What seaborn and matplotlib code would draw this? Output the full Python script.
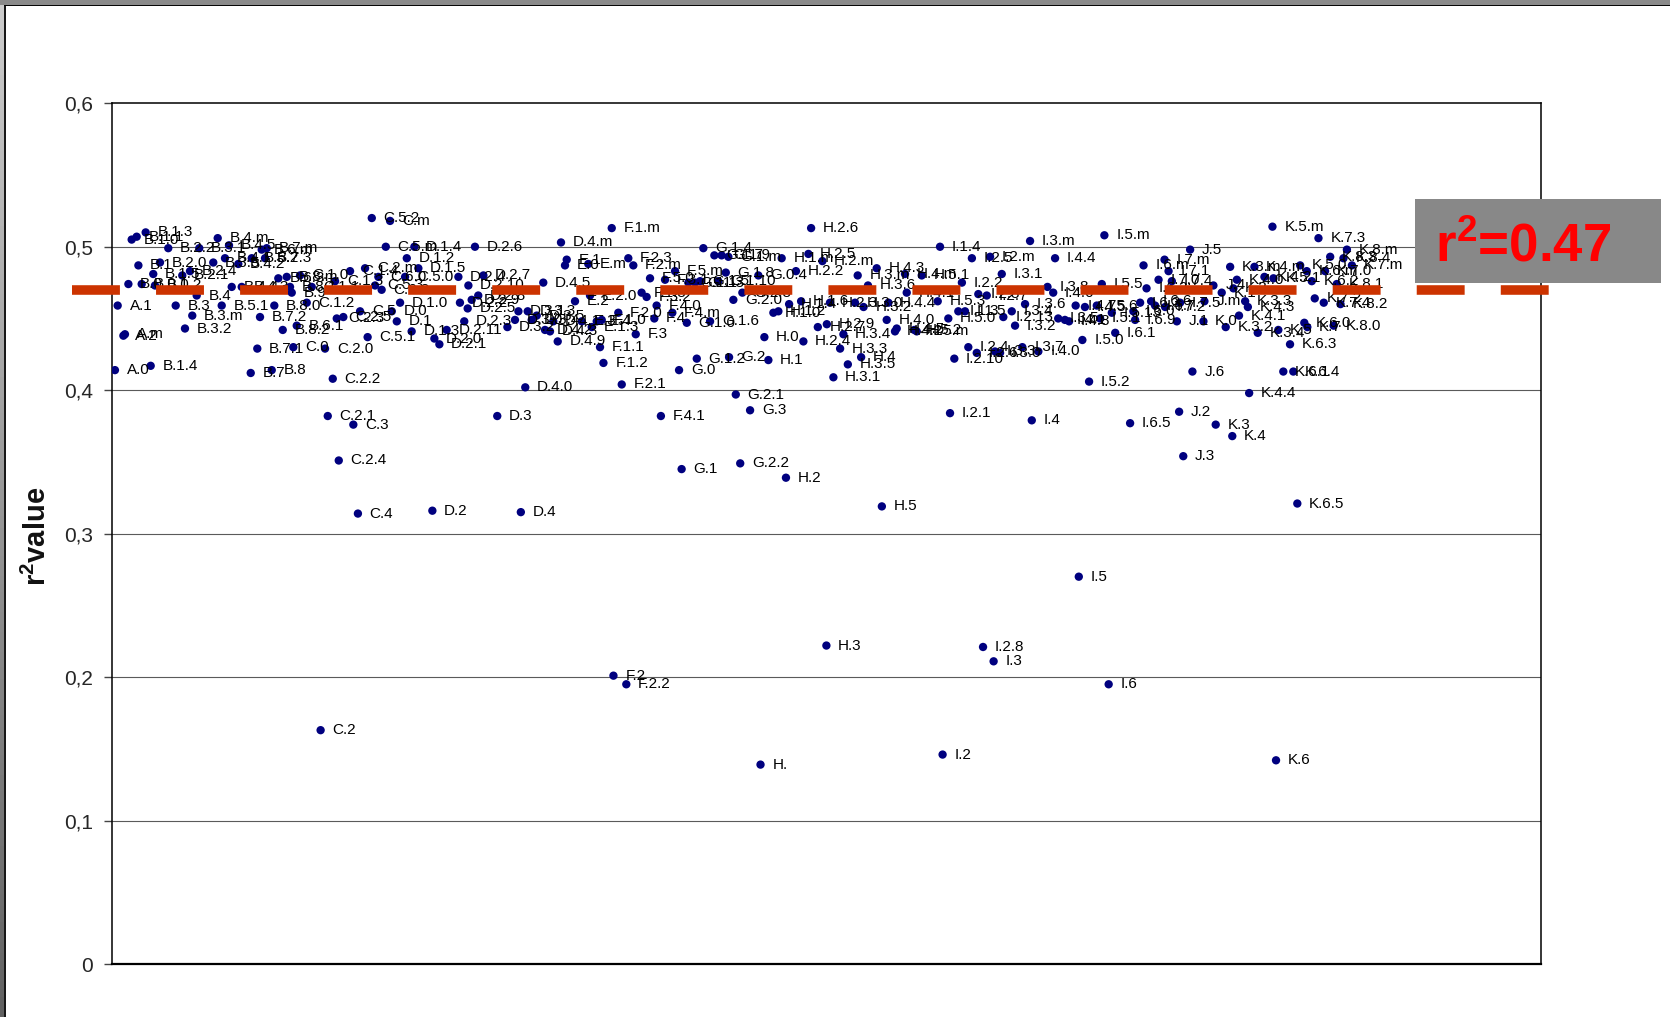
import numpy as np
import pandas as pd
import matplotlib
matplotlib.use("Agg")
import matplotlib.pyplot as plt
from matplotlib.patches import Rectangle
from matplotlib.lines import Line2D
import seaborn as sns

# ---- data -----------------------------------------------------------------
sample_labels = [
    "A.0", "A.1", "A.2", "A.m", "B.0", "B.1.0", "B.1.1", "B.1", "B.0.1", "B.1.3",
    "B.1.4", "B.1.5", "B.0.2", "B.2.0", "B.2.2", "B.3", "B.2.1", "B.3.2", "B.2.4", "B.3.m",
    "B.4", "B.3.1", "B.3.5", "B.4.m", "B.5.1", "B.4.1", "B.4.5", "B.4.4", "B.4.2", "B.4.3",
    "B.7", "B.5.2", "B.7.1", "B.7.2", "B.6.m", "B.7.3", "B.7.m", "B.8", "B.8.0", "B.6.3",
    "B.8.2", "B.8.m", "B.8.1", "B.9", "C.0", "B.6.1", "C.1.0", "C.1.2", "C.1.1", "C.2",
    "C.2.0", "C.2.1", "C.2.2", "C.1.3", "C.2.3", "C.2.4", "C.2.5",
    "C.1.4", "C.3", "C.4", "C.5", "C.2.m", "C.5.1", "C.5.2", "C.5.3", "C.6.0", "C.6.2",
    "C.5.m", "C.m", "D.0", "D.1", "D.1.0", "C.5.0", "D.1.2", "D.1.3", "D.1.4", "D.1.5",
    "D.2.0", "D.2.1", "D.2.11", "D.2.4", "D.2.2", "D.2.3", "D.2.5", "D.2.6", "D.2.9", "D.2.10",
    "D.2.8", "D.2.7", "D.3", "D.3.2", "D.3.0", "D.3.1", "D.4.0", "D.3.3", "D.3.4", "D.3.5",
    "D.4.5", "D.4.2", "D.4.3", "D.4.1", "D.4.9", "D.4.m", "E.0", "E.1", "E.2", "E.3",
    "D.2", "D.4",
    "E.m", "E.2.0", "E.1.3", "E.4", "F.1.1", "F.1.0", "F.1.2", "F.1.m", "F.2", "F.2.0",
    "F.2.1", "F.2.2", "F.2.3", "F.2.m", "F.3", "F.1.3", "F.3.2", "F.5.0", "F.4", "F.4.0",
    "F.4.1", "F.3.1", "F.4.m", "F.5.m", "G.0", "G.1", "G.1.0", "G.1.1", "G.1.2", "G.1.3",
    "G.1.4", "G.1.5", "G.1.6", "G.1.7", "G.1.8", "G.1.9", "G.1.m", "G.1.10", "G.2", "G.2.0",
    "G.2.1", "G.2.2", "G.2.3", "G.3", "G.0.4", "H.", "H.0", "H.1", "H.1.0", "H.1.2",
    "H.1.m", "H.2", "H.1.4", "H.2.2", "H.1.6", "H.2.4", "H.2.5", "H.2.6", "H.2.7", "H.2.m",
    "H.2.9",
    "H.2.3", "H.3.1", "H.3.3", "H.3", "H.3.4", "H.3.5", "H.3.0", "H.3.m", "H.4", "H.3.2",
    "H.3.6", "H.4.3", "H.5", "H.4.0", "H.4.4", "H.4.2", "H.4.5", "H.4.m", "H.4.1", "H.5.2",
    "H.5.m", "H.5.1", "H.5.3", "I.1.4", "I.2", "H.5.0", "I.2.1", "I.2.10", "I.1.3", "I.2.2",
    "I.1.5", "I.2.4", "I.2.5", "I.2.6", "I.2.3", "I.2.8", "I.2.7", "I.2.m", "I.3", "I.3.3",
    "I.3.0", "I.3.1", "I.2.13", "I.3.4", "I.3.2", "I.3.7", "I.3.6", "I.3.m", "I.4", "I.4.0",
    "I.3.8", "I.4.6", "I.4.4", "I.3.5", "I.4.1",
    "I.4.8", "I.4.7", "I.5", "I.5.0", "I.4.5", "I.5.2", "I.5.6", "I.5.1", "I.5.5", "I.5.m",
    "I.6", "I.5.13", "I.6.1", "I.6.5", "I.6.0", "I.6.9", "I.6.3", "I.6.m", "I.6.2", "I.6.6",
    "I.6.7", "I.7.0", "I.7.m", "I.7.2", "I.7.1", "I.7.4", "J.1", "J.2", "I.7.5", "J.3",
    "J.5", "J.6", "K.0", "J.m", "J.4", "K.3", "K.1", "K.3.2", "K.3.m", "K.4",
    "K.2", "K.4.0", "K.4.1", "K.3.3", "K.4.3", "K.4.4", "K.4.m", "K.3.4", "K.4.2", "K.5.m",
    "K.5.1", "K.6", "K.5", "K.6.1", "K.6.3", "K.6.4", "K.6.5", "K.5.0", "K.6.0", "K.6.m",
    "K.6.2", "K.7", "K.7.2", "K.7.3", "K.7.4", "K.7.0", "K.8.3", "K.8.0", "K.8.1", "K.8.2",
    "K.8.4", "K.8.m", "K.7.m",
]

sample_pos = [
    0.22, 0.41, 0.81, 0.92, 1.16, 1.39, 1.74, 1.86, 2.09, 2.37,
    2.72, 2.90, 3.02, 3.37, 3.95, 4.47, 4.93, 5.12, 5.47, 5.63,
    5.94, 6.12, 7.10, 7.41, 7.69, 7.92, 8.20, 8.39, 8.85, 9.09,
    9.72, 9.79, 10.18, 10.37, 10.49, 10.72, 10.84, 11.19, 11.37, 11.65,
    11.96, 12.24, 12.47, 12.59, 12.70, 12.94, 13.17, 13.64, 13.99, 14.61,
    14.92, 15.11, 15.46, 15.62, 15.74, 15.88, 16.20,
    16.67, 16.90, 17.22, 17.37, 17.72, 17.90, 18.19, 18.42, 18.65, 18.88,
    19.17, 19.47, 19.59, 19.94, 20.17, 20.52, 20.64, 20.98, 21.17, 21.45,
    22.57, 22.92, 23.43, 24.25, 24.36, 24.66, 24.90, 25.41, 25.18, 24.95,
    25.64, 26.00, 26.97, 27.68, 28.21, 28.45, 28.93, 29.10, 29.38, 29.73,
    30.19, 30.31, 30.66, 30.89, 31.20, 31.43, 31.71, 31.83, 32.41, 32.88,
    22.43, 28.62,
    33.34, 33.46, 33.58, 33.93, 34.16, 34.28, 34.40, 34.98, 35.10, 35.44,
    35.68, 36.00, 36.14, 36.49, 36.66, 37.07, 37.42, 37.66, 37.96, 38.12,
    38.42, 38.71, 39.22, 39.41, 39.69, 39.87, 40.23, 40.34, 40.93, 40.81,
    41.39, 41.16, 41.86, 42.16, 42.96, 42.67, 43.14, 42.44, 43.19, 43.49,
    43.66, 43.97, 44.12, 44.66, 45.24, 45.39, 45.66, 45.94, 46.29, 46.64,
    46.87, 47.17, 47.39, 47.87, 48.23, 48.39, 48.74, 48.93, 49.40, 49.72,
    50.03,
    50.25, 50.49, 50.96, 50.00, 51.19, 51.50, 52.00, 52.19, 52.43, 52.60,
    52.91, 53.52, 53.88, 54.22, 54.34, 54.80, 54.92, 55.50, 55.62, 56.15,
    56.32, 56.67, 57.79, 57.95, 58.13, 58.53, 58.65, 58.95, 59.23, 59.48,
    59.70, 59.93, 60.18, 60.52, 60.63, 60.96, 61.22, 61.45, 61.70, 61.80,
    62.15, 62.27, 62.38, 62.97, 63.20, 63.71, 63.90, 64.25, 64.37, 64.83,
    65.47, 65.87, 66.00, 66.22, 66.69,
    66.98, 67.44, 67.66, 67.91, 68.09, 68.38, 68.92, 69.15, 69.27, 69.45,
    69.75, 69.97, 70.21, 71.25, 71.48, 71.60, 71.95, 72.19, 72.40, 72.72,
    73.00, 73.24, 73.66, 73.70, 73.94, 74.17, 74.52, 74.68, 74.75, 74.97,
    75.45, 75.61, 76.38, 76.45, 77.08, 77.24, 77.66, 77.94, 78.25, 78.40,
    78.48, 78.72, 78.87, 79.30, 79.49, 79.58, 79.95, 80.18, 80.65, 81.21,
    81.28, 81.46, 81.62, 81.97, 82.44, 82.67, 82.95, 83.15, 83.44, 83.61,
    83.96, 83.65, 84.17, 84.43, 84.80, 84.89, 85.25, 85.49, 85.71, 85.97,
    86.18, 86.42, 86.77,
]

r2_values = [
    0.414, 0.459, 0.438, 0.439, 0.474, 0.505, 0.507, 0.487, 0.474, 0.510,
    0.417, 0.481, 0.473, 0.489, 0.499, 0.459, 0.480, 0.443, 0.483, 0.452,
    0.466, 0.499, 0.489, 0.506, 0.459, 0.492, 0.501, 0.472, 0.488, 0.472,
    0.412, 0.492, 0.429, 0.451, 0.498, 0.492, 0.499, 0.414, 0.459, 0.478,
    0.442, 0.479, 0.472, 0.468, 0.430, 0.445, 0.480, 0.461, 0.472, 0.163,
    0.429, 0.382, 0.408, 0.476, 0.450, 0.351, 0.451,
    0.483, 0.376, 0.314, 0.455, 0.485, 0.437, 0.520, 0.473, 0.479, 0.470,
    0.500, 0.518, 0.455, 0.448, 0.461, 0.479, 0.492, 0.441, 0.500, 0.485,
    0.436, 0.432, 0.442, 0.479, 0.461, 0.448, 0.457, 0.500, 0.463, 0.473,
    0.466, 0.480, 0.382, 0.444, 0.449, 0.455, 0.402, 0.455, 0.449, 0.452,
    0.475, 0.442, 0.441, 0.448, 0.434, 0.503, 0.487, 0.491, 0.462, 0.448,
    0.316, 0.315,
    0.488, 0.466, 0.444, 0.448, 0.430, 0.449, 0.419, 0.513, 0.201, 0.454,
    0.404, 0.195, 0.492, 0.487, 0.439, 0.468, 0.465, 0.478, 0.450, 0.459,
    0.382, 0.477, 0.454, 0.483, 0.414, 0.345, 0.447, 0.475, 0.422, 0.475,
    0.499, 0.476, 0.448, 0.494, 0.482, 0.494, 0.493, 0.476, 0.423, 0.463,
    0.397, 0.349, 0.468, 0.386, 0.480, 0.139, 0.437, 0.421, 0.454, 0.455,
    0.492, 0.339, 0.460, 0.483, 0.462, 0.434, 0.495, 0.513, 0.444, 0.490,
    0.446,
    0.461, 0.409, 0.429, 0.222, 0.439, 0.418, 0.461, 0.480, 0.423, 0.458,
    0.473, 0.485, 0.319, 0.449, 0.461, 0.441, 0.443, 0.481, 0.468, 0.442,
    0.441, 0.480, 0.462, 0.500, 0.146, 0.450, 0.384, 0.422, 0.455, 0.475,
    0.455, 0.430, 0.492, 0.426, 0.467, 0.221, 0.466, 0.493, 0.211, 0.427,
    0.426, 0.481, 0.451, 0.455, 0.445, 0.430, 0.460, 0.504, 0.379, 0.427,
    0.472, 0.468, 0.492, 0.450, 0.449,
    0.448, 0.459, 0.270, 0.435, 0.458, 0.406, 0.459, 0.450, 0.474, 0.508,
    0.195, 0.454, 0.440, 0.377, 0.455, 0.449, 0.461, 0.487, 0.471, 0.462,
    0.459, 0.477, 0.491, 0.458, 0.483, 0.476, 0.448, 0.385, 0.461, 0.354,
    0.498, 0.413, 0.448, 0.462, 0.473, 0.376, 0.468, 0.444, 0.486, 0.368,
    0.471, 0.477, 0.452, 0.462, 0.458, 0.398, 0.486, 0.440, 0.479, 0.514,
    0.478, 0.142, 0.442, 0.413, 0.432, 0.413, 0.321, 0.487, 0.447, 0.483,
    0.476, 0.444, 0.464, 0.506, 0.461, 0.483, 0.493, 0.445, 0.474, 0.460,
    0.492, 0.498, 0.487,
]

r2_mean = 0.47
y_ticks = [0.0, 0.1, 0.2, 0.3, 0.4, 0.5, 0.6]
y_ticklabels = ["0", "0,1", "0,2", "0,3", "0,4", "0,5", "0,6"]

df = pd.DataFrame({"label": sample_labels, "pos": sample_pos, "r2": r2_values})

# ---- style ------------------------------------------------------------------
sns.set_theme(style="white")
plt.rcParams["font.family"] = ["Liberation Sans", "DejaVu Sans"]
plt.rcParams["mathtext.fontset"] = "custom"
plt.rcParams["mathtext.rm"] = "Liberation Sans"
plt.rcParams["mathtext.bf"] = "Liberation Sans:bold"

fig = plt.figure(figsize=(16.7, 10.17), dpi=100)
fig.patch.set_facecolor("white")
ax = fig.add_axes([0.06695, 0.05211, 0.8558, 0.84632])
ax.set_facecolor("white")

# horizontal grid
for yv in y_ticks[1:-1]:
    ax.axhline(yv, color="#5a5a5a", lw=0.8, zorder=1)

sns.scatterplot(data=df, x="pos", y="r2", ax=ax, color="#00007f",
                s=36, edgecolor="none", linewidth=0, zorder=3, legend=False)

for lab, xv, yv in zip(df["label"], df["pos"], df["r2"]):
    ax.annotate(lab, (xv, yv), xytext=(8.5, 0), textcoords="offset points",
                ha="left", va="center", fontsize=11, color="#000000", zorder=4)

# mean r2 reference line
x_lo, x_hi = -2.76, 100.6
ax.add_line(Line2D([x_lo, x_hi], [r2_mean, r2_mean], color="#cc3300", lw=6.9,
                   dashes=(5.0, 3.77), dash_capstyle="butt", solid_capstyle="butt",
                   clip_on=False, zorder=6))

ax.set_xlim(0, 100)
ax.set_ylim(0, 0.6)
ax.set_xticks([])
ax.set_yticks(y_ticks)
ax.set_yticklabels(y_ticklabels, fontsize=15)
ax.tick_params(axis="y", direction="out", length=5.5, width=1, color="#444444",
               pad=8, left=True)
ax.set_xlabel("")
ax.set_ylabel("")
for side, sp in ax.spines.items():
    sp.set_visible(True)
    sp.set_color("#000000")
    sp.set_linewidth(1.1)
ax.spines["bottom"].set_linewidth(1.6)

fig.text(0.0222, 0.473, r"$\mathbf{r^{2}}$" + "value", rotation=90, ha="center",
         va="center", fontsize=21, fontweight="bold", color="#111111")

# annotation box with the mean value
fig.patches.append(Rectangle((0.8473, 0.7217), 0.1473, 0.0826, transform=fig.transFigure,
                             facecolor="#888888", edgecolor="none", zorder=10))
fig.text(0.8593, 0.7427, r"$\mathbf{r^{2}}$" + f"={r2_mean:.2f}", ha="left",
         va="baseline", fontsize=38, fontweight="bold", color="#ff0000", zorder=11)

# window frame: shaded left and top edges
grad_ax = fig.add_axes([0, 0, 4 / 1670, 1])
grad_ax.imshow(np.linspace(0.80, 0.38, 256).reshape(-1, 1), cmap="gray", vmin=0, vmax=1,
               aspect="auto", extent=[0, 1, 0, 1])
grad_ax.set_axis_off()
fig.patches.append(Rectangle((0, 1 - 4.5 / 1017), 1, 4.5 / 1017, transform=fig.transFigure,
                             facecolor="#8a8a8a", edgecolor="none", zorder=12))
fig.lines.append(Line2D([4.5 / 1670, 4.5 / 1670], [0, 1 - 4.5 / 1017], transform=fig.transFigure,
                        color="#000000", lw=1.3, zorder=12))
fig.lines.append(Line2D([4.5 / 1670, 1], [1 - 5.3 / 1017, 1 - 5.3 / 1017], transform=fig.transFigure,
                        color="#000000", lw=1.4, zorder=12))

fig.savefig("out.png", dpi=100, facecolor="white")
